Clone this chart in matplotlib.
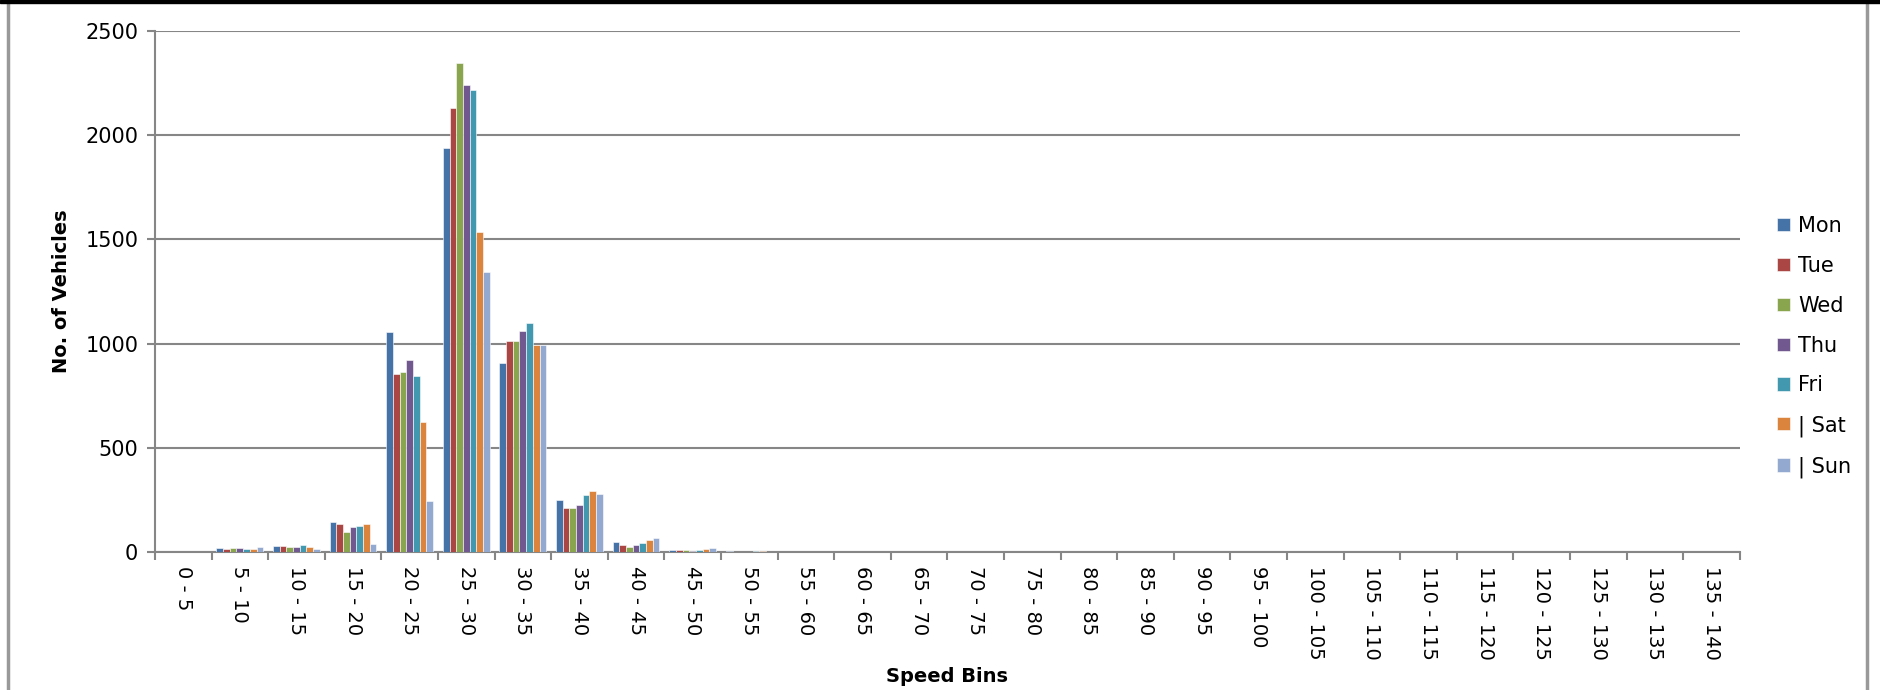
import numpy as np
import matplotlib
matplotlib.use("Agg")
import matplotlib.pyplot as plt
from matplotlib.patches import Rectangle

# speed bins
bins = ["0 - 5", "5 - 10", "10 - 15", "15 - 20", "20 - 25", "25 - 30", "30 - 35",
        "35 - 40", "40 - 45", "45 - 50", "50 - 55", "55 - 60", "60 - 65", "65 - 70",
        "70 - 75", "75 - 80", "80 - 85", "85 - 90", "90 - 95", "95 - 100",
        "100 - 105", "105 - 110", "110 - 115", "115 - 120", "120 - 125",
        "125 - 130", "130 - 135", "135 - 140"]

pad = [0] * 17
mon = [0, 18, 27, 146, 1057, 1938, 905, 251, 47, 8, 5] + pad
tue = [0, 14, 30, 132, 854, 2132, 1014, 210, 32, 8, 1] + pad
wed = [0, 18, 24, 94, 864, 2349, 1014, 210, 23, 8, 0] + pad
thu = [0, 18, 26, 119, 921, 2239, 1060, 227, 34, 3, 0] + pad
fri = [0, 14, 32, 124, 847, 2216, 1101, 275, 44, 11, 5] + pad
sat = [0, 16, 22, 136, 625, 1534, 993, 293, 58, 15, 3] + pad
sun = [0, 26, 13, 38, 246, 1345, 992, 280, 65, 18, 0] + pad

days = ["Mon", "Tue", "Wed", "Thu", "Fri", "| Sat", "| Sun"]
colors = ["#4572A7", "#AA4643", "#89A54E", "#71588F", "#4198AF", "#DB843D", "#93A9CF"]

fig = plt.figure(figsize=(18.8, 6.9), dpi=100)
ax = fig.add_axes([0.0824, 0.2, 0.843, 0.755])

x = np.arange(len(bins))
bw = 0.118
series = [mon, tue, wed, thu, fri, sat, sun]
for i, (vals, c, lab) in enumerate(zip(series, colors, days)):
    ax.bar(x + (i - 3) * bw, vals, width=bw, color=c, label=lab,
           edgecolor="white", linewidth=0.4, zorder=3)

ax.set_xlim(-0.5, len(bins) - 0.5)
ax.set_ylim(0, 2500)
ax.set_yticks(range(0, 2501, 500))
ax.yaxis.grid(True, color="#868686", linewidth=1.5, zorder=0)
ax.set_axisbelow(True)

ax.set_xticks(x)
ax.set_xticklabels(bins, rotation=270, fontsize=14, va="top", ha="center")
ax.set_xticks(np.arange(-0.5, len(bins)), minor=True)
ax.tick_params(axis="x", which="major", length=0, pad=10)
ax.tick_params(axis="x", which="minor", length=6, width=1.5, color="#868686", direction="out")
ax.tick_params(axis="y", length=6, width=1.5, color="#868686", labelsize=15, pad=6)

for s in ["top", "right"]:
    ax.spines[s].set_visible(False)
for s in ["left", "bottom"]:
    ax.spines[s].set_color("#868686")
    ax.spines[s].set_linewidth(1.5)

ax.set_ylabel("No. of Vehicles", fontsize=14, fontweight="bold", labelpad=10)
ax.set_xlabel("Speed Bins", fontsize=14, fontweight="bold")
ax.xaxis.set_label_coords(0.5, -0.22)

ax.legend(loc="center left", bbox_to_anchor=(0.9355, 0.497), bbox_transform=fig.transFigure,
          frameon=False, fontsize=15, handlelength=0.6, handleheight=0.6,
          handletextpad=0.4, labelspacing=0.95)

# chart area frame
fig.patches.append(Rectangle((0, 0.995), 1, 0.005, transform=fig.transFigure,
                             color="black", zorder=10))
fig.add_artist(plt.Line2D([0.0045, 0.0045], [0, 0.995], color="#999999", linewidth=2.5,
                          transform=fig.transFigure))
fig.add_artist(plt.Line2D([0.993, 0.993], [0, 0.995], color="#999999", linewidth=2.5,
                          transform=fig.transFigure))

fig.savefig("out.png", dpi=100)
